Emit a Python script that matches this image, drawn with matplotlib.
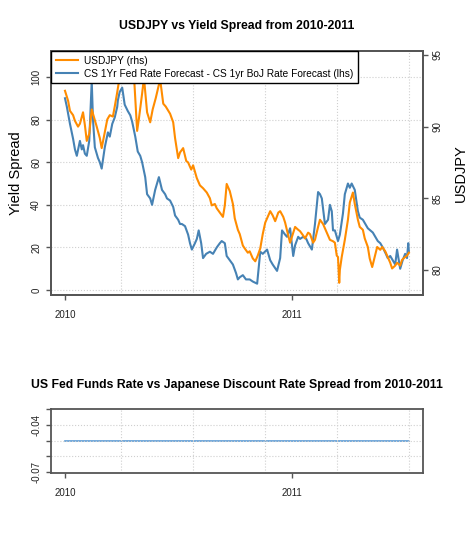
import numpy as np
import pandas as pd
import matplotlib
matplotlib.use("Agg")
import matplotlib.pyplot as plt

plt.rcParams['font.family'] = ['Liberation Sans', 'DejaVu Sans']

# days since 2010-01-01
spread_days = [0, 3, 8, 13, 16, 19, 24, 27, 29, 32, 35, 39, 40, 43, 45, 48, 53, 56, 59, 64,
               69, 72, 76, 80, 84, 85, 88, 92, 96, 101, 105, 108, 113, 117, 121, 124, 129, 132,
               137, 140, 145, 148, 151, 156, 161, 164, 169, 174, 177, 182, 185, 188, 193, 198,
               201, 204, 209, 212, 215, 219, 222, 227, 233, 238, 244, 249, 252, 257, 260, 265,
               270, 275, 278, 281, 286, 291, 297, 302, 309, 310, 314, 318, 325, 330, 334, 341,
               346, 349, 354, 357, 362, 367, 370, 375, 378, 383, 388, 391, 397, 402, 407, 410,
               413, 418, 423, 426, 429, 431, 434, 439, 442, 447, 450, 455, 458, 461, 466, 471,
               474, 479, 487, 495, 503, 507, 511, 516, 519, 523, 527, 531, 534, 539, 543, 547,
               550, 552, 553]
spread_vals = [90, 86, 78, 71, 66, 63, 70, 66, 68, 64, 63, 70, 77, 98, 80, 67, 62, 60, 57, 67,
               74, 72, 78, 81, 86, 89, 93, 95, 87, 84, 82, 79, 72, 65, 63, 60, 53, 45,
               43, 40, 47, 50, 53, 47, 45, 43, 42, 39, 35, 33, 31, 31, 30, 26,
               22, 19, 22, 24, 28, 22, 15, 17, 18, 17, 20, 22, 23, 22, 16, 14,
               12, 8, 5, 6, 7, 5, 5, 4, 3, 6, 18, 17, 19, 14, 12, 9,
               15, 28, 26, 25, 29, 16, 21, 25, 24, 25, 24, 22, 19, 31, 46, 45,
               43, 31, 33, 40, 37, 28, 28, 23, 26, 36, 45, 50, 48, 50, 47, 37,
               34, 33, 29, 27, 23, 22, 20, 17, 15, 16, 14, 12, 19, 10, 14, 17,
               15, 22, 18]

jpy_days = [0, 5, 8, 13, 16, 21, 24, 29, 32, 35, 39, 43, 47, 51, 56, 59, 64, 68, 72, 77,
            80, 84, 87, 92, 96, 101, 106, 111, 116, 119, 124, 127, 132, 137, 141, 146, 153,
            158, 162, 169, 174, 177, 182, 185, 190, 195, 198, 203, 206, 212, 217, 222, 228,
            233, 236, 241, 244, 249, 254, 257, 260, 265, 270, 273, 278, 281, 286, 289, 294,
            297, 302, 306, 310, 314, 318, 322, 326, 330, 334, 338, 343, 346, 351, 354, 359,
            362, 367, 370, 375, 378, 383, 386, 391, 394, 399, 402, 407, 410, 415, 418, 423,
            426, 431, 434, 437, 439, 441, 442, 445, 450, 455, 458, 463, 466, 471, 474, 479,
            482, 487, 490, 494, 498, 502, 507, 510, 515, 518, 523, 526, 531, 534, 539, 542,
            547, 550, 553]
jpy_vals = [92.5, 91.8, 91.1, 90.8, 90.4, 90.0, 90.2, 91.0, 90.1, 89.0, 89.5, 91.2, 90.6, 90.0,
            89.2, 88.5, 89.6, 90.5, 90.8, 90.7, 91.4, 92.4, 93.2, 93.6, 93.8, 94.0, 94.4, 93.5,
            89.7, 90.6, 92.3, 93.4, 91.0, 90.3, 91.2, 92.0, 93.3, 91.6, 91.4, 90.9, 90.3, 89.2,
            87.8, 88.2, 88.5, 87.6, 87.5, 87.0, 87.3, 86.4, 85.9, 85.7, 85.4, 85.0, 84.5, 84.6,
            84.3, 84.0, 83.7, 84.5, 86.0, 85.5, 84.6, 83.6, 82.8, 82.5, 81.7, 81.5, 81.2, 81.3,
            80.8, 80.6, 81.0, 81.5, 82.5, 83.3, 83.7, 84.1, 83.8, 83.4, 84.0, 84.1, 83.7, 83.3,
            82.4, 81.9, 82.6, 83.0, 82.8, 82.7, 82.4, 82.2, 82.6, 82.5, 81.9, 82.1, 83.0, 83.5,
            83.2, 82.9, 82.4, 82.1, 82.0, 81.9, 81.0, 80.9, 79.1, 80.0, 80.9, 82.1, 83.5, 84.7,
            85.4, 84.6, 83.5, 83.0, 82.8, 82.2, 81.6, 80.8, 80.2, 80.9, 81.6, 81.4, 81.6, 81.3,
            81.0, 80.5, 80.1, 80.3, 80.5, 80.3, 80.7, 80.9, 81.0, 81.2]

fed_days = [0, 553]
fed_spread = [-0.05, -0.05]

base = pd.Timestamp('2010-01-01')
t_spread = base + pd.to_timedelta(spread_days, unit='D')
t_jpy = base + pd.to_timedelta(jpy_days, unit='D')
t_fed = base + pd.to_timedelta(fed_days, unit='D')

xmin = base + pd.Timedelta(days=-22.5)
xmax = base + pd.Timedelta(days=575.7)
vgrid = base + pd.to_timedelta(np.linspace(90, 553, 5), unit='D')
xticks = [pd.Timestamp('2010-01-01'), pd.Timestamp('2011-01-01')]

orange = '#FF8C00'
blue = '#4682B4'
edge = '#555555'
gridc = '#cfcfcf'

fig = plt.figure(figsize=(4.74, 5.37), dpi=100)


def style(a):
    for s in a.spines.values():
        s.set_color(edge)
        s.set_linewidth(1.3)
    a.tick_params(colors=edge, labelcolor='#222222', labelsize=7, length=3.5, width=1)


# top panel
ax = fig.add_axes([0.1076, 0.4507, 0.7848, 0.4544])
for g in vgrid:
    ax.axvline(g, color=gridc, lw=0.8, ls=':', zorder=0)
for y in [0, 20, 40, 60, 80, 100]:
    ax.axhline(y, color=gridc, lw=0.8, ls=':', zorder=0)
l2, = ax.plot(t_spread, spread_vals, color=blue, lw=1.5)
ax.set_ylim(-2.3, 112.2)
ax.set_yticks([0, 20, 40, 60, 80, 100])
ax.set_xlim(xmin, xmax)
ax.set_xticks(xticks)
ax.set_xticklabels(['2010', '2011'])
ax.tick_params(axis='x', pad=7)
for lab in ax.get_yticklabels():
    lab.set_rotation(90)
    lab.set_va('center')
ax.set_ylabel('Yield Spread', fontsize=10.5, labelpad=6)
style(ax)

ax2 = ax.twinx()
l1, = ax2.plot(t_jpy, jpy_vals, color=orange, lw=1.5)
ax2.set_ylim(78.25, 95.28)
ax2.set_yticks([80, 85, 90, 95])
for lab in ax2.get_yticklabels():
    lab.set_rotation(90)
    lab.set_va('center')
ax2.set_ylabel('USDJPY', fontsize=10.5, labelpad=8)
ax2.set_xlim(xmin, xmax)
style(ax2)
leg = ax2.legend([l1, l2], ['USDJPY (rhs)',
                            'CS 1Yr Fed Rate Forecast - CS 1yr BoJ Rate Forecast (lhs)'],
                 loc='upper left', bbox_to_anchor=(0, 1), borderaxespad=0, fontsize=7.3,
                 fancybox=False, framealpha=1, edgecolor='black', handlelength=2.2,
                 handletextpad=0.6, borderpad=0.45, labelspacing=0.3)
leg.get_frame().set_linewidth(1)
leg.set_zorder(10)
fig.text(0.5, 1 - 26 / 537, 'USDJPY vs Yield Spread from 2010-2011', ha='center', va='center',
         fontsize=8.8, fontweight='bold')

# bottom panel
bx = fig.add_axes([0.1076, 0.1192, 0.7848, 0.1192])
bx.plot(t_fed, fed_spread, color='#5b9bd5', lw=1.2, zorder=1)
for g in vgrid:
    bx.axvline(g, color=gridc, lw=0.8, ls=':', zorder=2)
for y in [-0.04, -0.05, -0.06]:
    bx.axhline(y, color=gridc, lw=0.8, ls=':', zorder=2)
bx.set_ylim(-0.0708, -0.0297)
bx.set_yticks([-0.07, -0.06, -0.05, -0.04, -0.03])
bx.set_yticklabels(['-0.07', '', '', '-0.04', ''], rotation=90, va='center')
bx.set_xlim(xmin, xmax)
bx.set_xticks(xticks)
bx.set_xticklabels(['2010', '2011'])
bx.tick_params(axis='x', pad=7)
style(bx)
fig.text(0.5, 1 - 385 / 537, 'US Fed Funds Rate vs Japanese Discount Rate Spread from 2010-2011',
         ha='center', va='center', fontsize=8.8, fontweight='bold')

fig.savefig('out.png', dpi=100)
